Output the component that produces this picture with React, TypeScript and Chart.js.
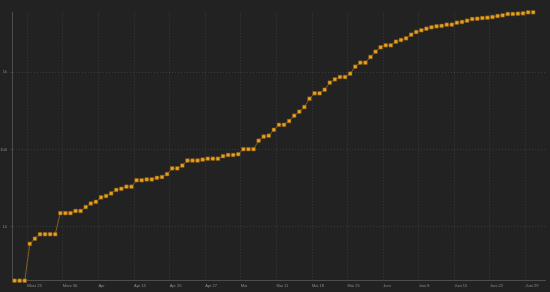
import React, { useEffect, useRef } from "react";
import { Chart, registerables } from "chart.js";

Chart.register(...registerables);

// Daily cumulative values, starting 2020-03-20 (one value per day)
const startDate = "2020-03-20";
const values: number[] = [
  2, 2, 2, 6, 7, 8, 8, 8, 8, 15,
  15, 15, 16, 16, 18, 20, 21, 24, 25, 27,
  30, 31, 33, 33, 40, 40, 41, 41, 43, 44,
  48, 57, 57, 62, 72, 72, 72, 74, 76, 76,
  76, 82, 85, 85, 87, 101, 101, 101, 130, 147,
  151, 180, 209, 209, 234, 274, 309, 355, 455, 535,
  535, 595, 734, 811, 869, 869, 960, 1183, 1332, 1332,
  1578, 1849, 2109, 2238, 2238, 2490, 2620, 2755, 3070, 3325,
  3500, 3670, 3830, 3945, 3990, 4140, 4140, 4390, 4485, 4660,
  4900, 4945, 5050, 5095, 5200, 5360, 5470, 5690, 5690, 5740,
  5800, 5985, 5985,
];

// Weekly x ticks (day offsets from startDate) and their labels
const xTickDays: number[] = [3, 10, 17, 24, 31, 38, 45, 52, 59, 66, 73, 80, 87, 94, 101];
const xTickLabels: string[] = [
  "März 23", "März 30", "Apr", "Apr 13", "Apr 20", "Apr 27", "Mai",
  "Mai 11", "Mai 18", "Mai 25", "Juni", "Juni 8", "Juni 15", "Juni 22", "Juni 29",
];

const yTickValues: number[] = [10, 100, 1000];
const yTickLabels: string[] = ["10", "100", "1k"];

const BG = "#222222";
const GRID = "rgba(255,255,255,0.11)";
const AXIS = "#4d4d4d";

export default function App() {
  const ref = useRef<HTMLCanvasElement>(null);

  useEffect(() => {
    if (!ref.current) return;
    // points are stamped at noon of each day
    const points = values.map((v, i) => ({ x: i + 0.5, y: v }));
    const bgPlugin = {
      id: "bg",
      beforeDraw(chart: any) {
        const { ctx, width, height } = chart;
        ctx.save();
        ctx.fillStyle = BG;
        ctx.fillRect(0, 0, width, height);
        ctx.restore();
      },
    };
    const chart = new Chart(ref.current, {
      type: "line",
      data: {
        datasets: [
          {
            label: startDate,
            data: points,
            borderColor: "rgba(140,100,35,0.9)",
            borderWidth: 1,
            tension: 0,
            pointStyle: "rect",
            pointRadius: 2.6,
            pointBackgroundColor: "#eaa21e",
            pointBorderColor: "rgba(120,80,20,0.9)",
            pointBorderWidth: 0.6,
            clip: false,
          } as any,
        ],
      },
      options: {
        animation: false,
        responsive: false,
        maintainAspectRatio: false,
        layout: { padding: { top: 12.3, left: 0, right: 0, bottom: 0 } },
        plugins: { legend: { display: false }, tooltip: { enabled: false } },
        scales: {
          x: {
            type: "linear",
            min: 0,
            max: 104.9,
            afterBuildTicks: (scale: any) => {
              scale.ticks = xTickDays.map((d) => ({ value: d }));
            },
            afterFit: (scale: any) => { scale.height = 11.3; },
            grid: { color: GRID, drawTicks: false },
            border: { display: true, color: AXIS, width: 1, dash: [1, 2] } as any,
            ticks: {
              autoSkip: false, maxRotation: 0, align: "start", padding: 3, color: "#8c8c8c",
              font: { family: "Liberation Sans", size: 4 },
              callback: (value: any) => {
                const idx = xTickDays.indexOf(Number(value));
                return idx >= 0 ? xTickLabels[idx] : "";
              },
            },
          },
          y: {
            type: "logarithmic",
            min: 2,
            max: 5985,
            afterBuildTicks: (scale: any) => {
              scale.ticks = yTickValues.map((v) => ({ value: v }));
            },
            afterFit: (scale: any) => { scale.width = 12; },
            grid: { color: GRID, drawTicks: true, tickLength: 2 },
            border: { display: true, color: AXIS, width: 1, dash: [1, 2] } as any,
            ticks: {
              padding: 3, color: "#8c8c8c",
              font: { family: "Liberation Sans", size: 4 },
              callback: (value: any) => {
                const idx = yTickValues.indexOf(Number(value));
                return idx >= 0 ? yTickLabels[idx] : "";
              },
            },
          },
        },
      },
      plugins: [bgPlugin],
    });
    return () => chart.destroy();
  }, []);

  return (
    <div style={{ position: "fixed", left: 0, top: 0, width: 550, height: 292, background: BG }}>
      <canvas ref={ref} width={550} height={292} style={{ display: "block" }} />
    </div>
  );
}
